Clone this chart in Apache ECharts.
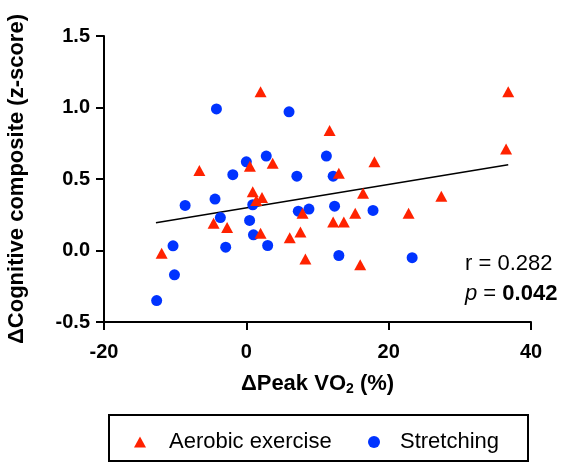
<!DOCTYPE html>
<html>
<head>
<meta charset="utf-8">
<script src="https://cdn.jsdelivr.net/npm/echarts@6/dist/echarts.min.js"></script>
<style>
  html, body { margin: 0; padding: 0; background: #fff; }
  #chart { width: 562px; height: 463px; }
</style>
</head>
<body>
<div id="chart"></div>
<script>
// Aerobic exercise: [ΔPeak VO2 %, ΔCognitive composite z]
var aerobic = [
  [2.0, 1.11], [36.8, 1.11], [11.7, 0.84], [36.5, 0.71], [18.0, 0.62],
  [0.5, 0.59], [3.7, 0.61], [-6.6, 0.56], [13.0, 0.54], [0.9, 0.41],
  [2.2, 0.37], [1.4, 0.35], [16.4, 0.40], [27.4, 0.38], [-4.6, 0.19],
  [-2.7, 0.16], [2.0, 0.12], [7.9, 0.26], [6.1, 0.09], [7.6, 0.13],
  [8.3, -0.06], [-11.9, -0.02], [15.3, 0.26], [12.2, 0.2], [13.7, 0.2],
  [22.8, 0.26], [16.0, -0.1]
]
var stretching = [
  [-4.2, 0.99], [6.0, 0.97], [2.8, 0.66], [0.0, 0.62], [-1.9, 0.53],
  [7.1, 0.52], [11.25, 0.66], [12.2, 0.52], [-4.4, 0.36], [-8.6, 0.315],
  [0.9, 0.32], [-3.65, 0.23], [0.46, 0.21], [1.0, 0.11], [3.0, 0.035],
  [-2.9, 0.023], [7.3, 0.275], [8.8, 0.29], [12.4, 0.31], [17.8, 0.28],
  [13.0, -0.035], [23.3, -0.05], [-10.3, 0.033], [-10.1, -0.17], [-12.6, -0.35]
]
// fitted regression line, end points
var fitLine = [[-12.7, 0.194], [36.8, 0.60]]
var seriesNames = ['Aerobic exercise', 'Stretching']
var statsText = ['r = 0.282', '0.042']

var red = '#ff2200'
var blue = '#0033ff'
var font = 'Liberation Sans, Arial, Helvetica, sans-serif'

var chart = echarts.init(document.getElementById('chart'))
chart.setOption({
  animation: false,
  textStyle: { fontFamily: font },
  grid: { left: 104, right: 31, top: 36, bottom: 141, containLabel: false, outerBoundsMode: 'none' },
  xAxis: {
    type: 'value',
    min: -20,
    max: 40,
    interval: 20,
    splitLine: { show: false },
    axisLine: { onZero: false, lineStyle: { color: '#000', width: 2 } },
    axisTick: { length: 8, lineStyle: { color: '#000', width: 2 } },
    axisLabel: { color: '#000', fontSize: 20, fontWeight: 'bold', margin: 20 },
    name: '{b|ΔPeak VO}{s|2}{b| (%)}',
    nameLocation: 'middle',
    nameGap: 50,
    nameTextStyle: {
      rich: {
        b: { fontSize: 22, fontWeight: 'bold', color: '#000', fontFamily: font },
        s: { fontSize: 14, fontWeight: 'bold', color: '#000', fontFamily: font, padding: [10, 0, 0, 0] }
      }
    }
  },
  yAxis: {
    type: 'value',
    min: -0.5,
    max: 1.5,
    interval: 0.5,
    splitLine: { show: false },
    axisLine: { onZero: false, lineStyle: { color: '#000', width: 2 } },
    axisTick: { length: 8, lineStyle: { color: '#000', width: 2 } },
    axisLabel: {
      color: '#000', fontSize: 20, fontWeight: 'bold', margin: 14,
      formatter: function (v) { return v.toFixed(1) }
    },
    name: 'ΔCognitive composite (z-score)',
    nameLocation: 'middle',
    nameGap: 76,
    nameTextStyle: { color: '#000', fontSize: 22, fontWeight: 'bold' }
  },
  legend: [
    {
      data: [{ name: seriesNames[0], icon: 'triangle' }],
      left: 129, top: 426,
      itemWidth: 12, itemHeight: 11,
      textStyle: { fontSize: 22, color: '#000', padding: [0, 0, 0, 18] }
    },
    {
      data: [{ name: seriesNames[1], icon: 'circle' }],
      left: 363, top: 426,
      itemWidth: 12, itemHeight: 12,
      textStyle: { fontSize: 22, color: '#000', padding: [0, 0, 0, 15] }
    }
  ],
  graphic: [
    {
      type: 'rect',
      shape: { x: 109, y: 415, width: 419, height: 46 },
      style: { fill: 'none', stroke: '#000', lineWidth: 2 }
    },
    {
      type: 'text',
      left: 465, top: 253,
      style: { text: statsText[0], font: '22px ' + font, fill: '#000' }
    },
    {
      type: 'text',
      left: 465, top: 283,
      style: {
        text: '{i|p} = {b|' + statsText[1] + '}',
        font: '22px ' + font,
        fill: '#000',
        rich: {
          i: { fontStyle: 'italic', fontSize: 22, fontFamily: font },
          b: { fontWeight: 'bold', fontSize: 22, fontFamily: font }
        }
      }
    }
  ],
  series: [
    {
      name: 'fit',
      type: 'line',
      data: fitLine,
      symbol: 'none',
      lineStyle: { color: '#000', width: 1.5 },
      z: 1
    },
    {
      name: seriesNames[0],
      type: 'scatter',
      symbol: 'triangle',
      symbolSize: [12, 11],
      data: aerobic,
      itemStyle: { color: red, opacity: 1 },
      z: 3
    },
    {
      name: seriesNames[1],
      type: 'scatter',
      symbol: 'circle',
      symbolSize: 11,
      data: stretching,
      itemStyle: { color: blue, opacity: 1 },
      z: 2
    }
  ]
})
</script>
</body>
</html>
